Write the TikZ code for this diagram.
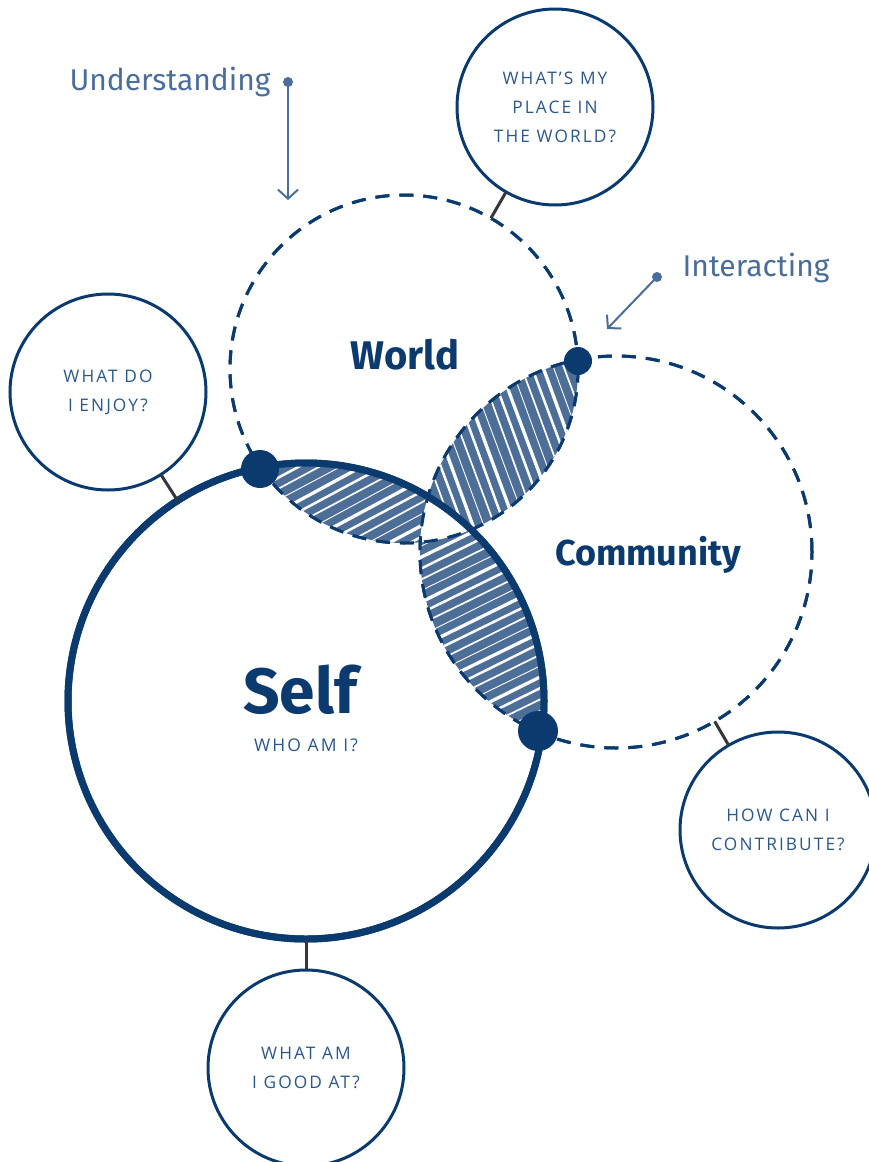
\documentclass[tikz,border=0pt]{standalone}
\usepackage{fontspec}
\setmainfont{Open Sans}
\newfontfamily\handfont{Fira Sans}
\newfontfamily\capfont{Open Sans}[LetterSpace=12]
\usetikzlibrary{arrows.meta,calc}
\definecolor{navy}{HTML}{0B3A6E}
\definecolor{hatchblue}{HTML}{4D6E97}
\definecolor{softblue}{HTML}{4A6D9A}
\definecolor{qtext}{HTML}{2A5789}
\definecolor{linkgray}{HTML}{33363D}

\begin{document}
\begin{tikzpicture}
[x=1pt,y=-1pt,
ring/.style = {draw=navy, circle, line width=3, inner sep=0, outer sep=0,
  minimum size=196, align=center, text=qtext,
  font=\capfont\fontsize{17.3}{29}\selectfont},
dashring/.style = {draw=navy, circle, line width=3, inner sep=0, outer sep=0,
  dash pattern=on 14pt off 10pt},
selfring/.style = {draw=navy, circle, line width=7, inner sep=0, outer sep=0,
  minimum size=476},
link/.style = {draw=linkgray, line width=3},
knot/.style = {fill=navy, circle, inner sep=0},
pin/.style = {fill=softblue, circle, inner sep=0, minimum size=10},
pointer/.style = {draw=softblue, line width=2,
  -{Straight Barb[length=9pt,width=20pt,line width=2pt]}},
gap/.style = {draw=white, line cap=round},
hand/.style = {text=navy, font=\handfont\bfseries},
note/.style = {text=softblue, font=\handfont\fontsize{30}{30}\selectfont}]

\useasboundingbox (0,0) rectangle (869,1162);

% main circles
\node[selfring] (self) at (306,701) {};
\node[dashring, minimum size=348] (world) at (404,369) {};
\node[dashring, minimum size=392] (comm) at (616,552) {};

% hatched overlaps
\begin{scope}
\clip (self.center) circle (238);
\clip (world.center) circle (174);
\fill[hatchblue] (200,400) rectangle (600,700);
\begin{scope}[shift={(365,499)}, rotate=28]
\foreach \k [count=\n, evaluate=\n as \w using {0.9+0.8*mod(7*\n,4)},
  evaluate=\n as \d using {mod(5*\n,3)}] in {-150,-140,...,150}
  \draw[gap, line width=\w] (-260,\k+\d) -- (260,\k-\d);
\end{scope}
\end{scope}

\begin{scope}
\clip (world.center) circle (174);
\clip (comm.center) circle (196);
\fill[hatchblue] (350,300) rectangle (650,600);
\begin{scope}[shift={(499,451)}, rotate=-70]
\foreach \k [count=\n, evaluate=\n as \w using {0.9+0.8*mod(7*\n,4)},
  evaluate=\n as \d using {mod(5*\n,3)}] in {-150,-140,...,150}
  \draw[gap, line width=\w] (-260,\k+\d) -- (260,\k-\d);
\end{scope}
\end{scope}

\begin{scope}
\clip (self.center) circle (238);
\clip (comm.center) circle (196);
\fill[hatchblue] (380,450) rectangle (600,780);
\begin{scope}[shift={(485,615)}, rotate=26]
\foreach \k [count=\n, evaluate=\n as \w using {0.9+0.8*mod(7*\n,4)},
  evaluate=\n as \d using {mod(5*\n,3)}] in {-160,-150,...,160}
  \draw[gap, line width=\w] (-260,\k+\d) -- (260,\k-\d);
\end{scope}
\end{scope}

% middle bit stays blank
\begin{scope}
\clip (self.center) circle (238);
\clip (world.center) circle (174);
\fill[white] (comm.center) circle (196);
\end{scope}

% redraw outlines on top
\node[dashring, minimum size=348] at (world.center) {};
\node[dashring, minimum size=392] at (comm.center) {};
\node[selfring] at (self.center) {};

% question circles
\node[ring] (place) at (555,107) {WHAT’S MY\\PLACE IN\\THE WORLD?};
\node[ring] (enjoy) at (108,392) {WHAT DO\\I ENJOY?};
\node[ring] (contrib) at (778,830) {HOW CAN I\\CONTRIBUTE?};
\node[ring] (good) at (306,1068) {WHAT AM\\I GOOD AT?};

\draw[link] (place) -- (world);
\draw[link] (enjoy) -- (self);
\draw[link] (contrib) -- (comm);
\draw[link] (good) -- (self);

% crossing points
\node[knot, minimum size=38] (k1) at (260,469) {};
\node[knot, minimum size=28] (k2) at (578,361) {};
\node[knot, minimum size=40] (k3) at (538,731) {};

% titles
\node[hand, font=\handfont\bfseries\fontsize{40}{40}\selectfont] (tworld) at (405,355) {World};
\node[hand, font=\handfont\bfseries\fontsize{36}{36}\selectfont] (tcomm) at (648,555) {Community};
\node[hand, font=\handfont\bfseries\fontsize{64}{64}\selectfont] (tself) at (300,690) {Self};
\node[text=qtext, font=\capfont\fontsize{17.5}{18}\selectfont] (twho) at (306,745) {WHO AM I?};

% side notes
\node[note] (under) at (170,82) {Understanding};
\node[pin] (upin) at (288,82) {};
\coordinate (uend) at (288,200);
\draw[pointer] (upin.center) -- (uend);

\node[note] (inter) at (756,268) {Interacting};
\node[pin] (ipin) at (657,277) {};
\coordinate (iend) at (607,329);
\draw[pointer] (ipin.center) -- (iend);

\end{tikzpicture}
\end{document}
